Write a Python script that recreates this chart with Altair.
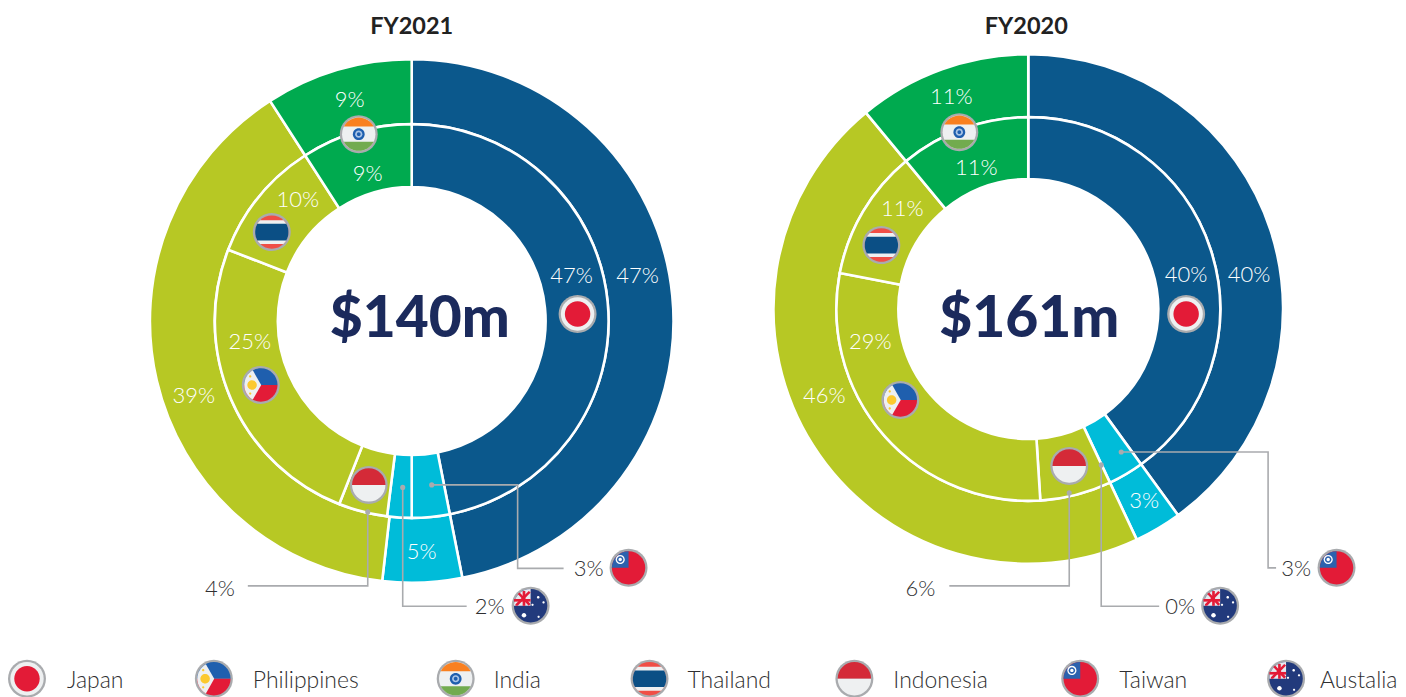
import altair as alt
import pandas as pd

W, H = 1390, 689
BLUE, CYAN, OLIVE, GREEN = "#0b588c", "#00bcd9", "#b7c824", "#00aa4f"
GREY = "#a9abae"
RED = "#e31b37"
PALE = "#eef0f1"

# ---- data -------------------------------------------------------------
inner_colors = [BLUE, CYAN, CYAN, OLIVE, OLIVE, OLIVE, GREEN]
inner_2021 = [46.9, 3.1, 2, 4, 24.9, 10, 9.1]
inner_2020 = [40, 3, 0, 6, 29, 11, 11]
outer_colors = [BLUE, CYAN, OLIVE, GREEN]
outer_2021 = [46.9, 4.9, 39.1, 9.1]
outer_2020 = [40, 3, 46, 11]

rings = [
    # cx, cy, rOuter, rMid, rHole
    (412, 321, 262, 197, 134, outer_2021, inner_2021),
    (1029, 309, 255, 192, 130, outer_2020, inner_2020),
]

pct_labels_white = [
    ("47%", 572, 276), ("47%", 638, 276), ("5%", 422, 552), ("39%", 194, 396),
    ("25%", 250, 342), ("10%", 298, 200), ("9%", 350, 100), ("9%", 368, 174),
    ("40%", 1187, 275), ("40%", 1250, 275), ("3%", 1145, 501), ("46%", 825, 396),
    ("29%", 871, 342), ("11%", 903, 209), ("11%", 952, 97), ("11%", 977, 168),
]
pct_labels_dark = [
    ("3%", 589, 569), ("2%", 490, 607), ("4%", 220, 589),
    ("3%", 1297, 569), ("0%", 1181, 607), ("6%", 921, 589),
]
titles = [("FY2021", 412, 27), ("FY2020", 1027, 27)]
centers = [("$140m", 420, 320), ("$161m", 1030, 320)]
legend_names = ["Japan", "Philippines", "India", "Thailand", "Indonesia", "Taiwan", "Austalia"]
legend_keys = ["Japan", "Philippines", "India", "Thailand", "Indonesia", "Taiwan", "Australia"]
legend_flag_x = [27, 214, 456, 650, 855, 1081, 1287]
legend_label_x = [67, 253, 494, 688, 894, 1120, 1321]
legend_flag_y = 679
legend_label_y = 681

flag_places = [
    ("Japan", 578, 314), ("Philippines", 261, 385), ("India", 359, 134), ("Thailand", 272, 232),
    ("Indonesia", 369, 485), ("Taiwan", 629, 568), ("Australia", 531, 606),
    ("Japan", 1187, 314), ("Philippines", 901, 400), ("India", 960, 132), ("Thailand", 882, 245),
    ("Indonesia", 1070, 466), ("Taiwan", 1337.5, 568), ("Australia", 1221, 606),
]

leaders = [
    [(432, 485), (518, 485), (518, 568.5), (564, 568.5)],
    [(403, 487.5), (403, 606.5), (467, 606.5)],
    [(368, 512), (368, 586), (248, 586)],
    [(1122, 452), (1269, 452), (1269, 568), (1277, 568)],
    [(1102, 465), (1102, 606.5), (1160, 606.5)],
    [(1070, 493), (1070, 586), (950, 586)],
]

# flag artwork: paths in a unit circle (custom symbol shapes); 1 unit = the flag radius
DISC = "M-1,0A1,1 0 1 1 1,0A1,1 0 1 1 -1,0Z"
TOP = "M-.88,0A.88,.88 0 0 1 .88,0Z"
BOT = "M-.88,0A.88,.88 0 0 0 .88,0Z"
QUARTER = "M-.88,0L0,0L0,-.88A.88,.88 0 0 0 -.88,0Z"
flag_art = {
    "Japan": [(DISC, PALE, 0.88), (DISC, RED, 0.67)],
    "Philippines": [
        (TOP, "#1f5fae"), (BOT, RED),
        ("M.02,0L-.42,-.77A.88,.88 0 0 0 -.42,.77Z", PALE),
        (DISC, "#fcc92f", 0.25, -0.46, 0),
        (DISC, "#fcc92f", 0.06, -0.56, -0.45),
        (DISC, "#fcc92f", 0.06, -0.56, 0.45),
    ],
    "India": [
        (DISC, PALE, 0.88),
        ("M-.784,-.4A.88,.88 0 0 1 .784,-.4Z", "#f98020"),
        ("M-.784,.4A.88,.88 0 0 0 .784,.4Z", "#72ab4f"),
        (DISC, "#1f5fae", 0.31),
        (DISC, "#a9c4e6", 0.19),
        (DISC, "#1f5fae", 0.1),
    ],
    "Thailand": [
        (DISC, "#f04e46", 0.88),
        ("M-.614,-.63L.614,-.63A.88,.88 0 0 1 .614,.63L-.614,.63A.88,.88 0 0 1 -.614,-.63Z", PALE),
        ("M-.762,-.44L.762,-.44A.88,.88 0 0 1 .762,.44L-.762,.44A.88,.88 0 0 1 -.762,-.44Z", "#0b4f85"),
    ],
    "Indonesia": [(TOP, "#d42a38"), (BOT, PALE)],
    "Taiwan": [
        (DISC, RED, 0.88),
        (QUARTER, "#2c62ae"),
        (DISC, "#ffffff", 0.24, -0.44, -0.44),
        (DISC, "#2c62ae", 0.17, -0.44, -0.44),
        (DISC, "#ffffff", 0.09, -0.44, -0.44),
    ],
    "Australia": [
        (DISC, "#223a7c", 0.88),
        (QUARTER, "#e8eaf0"),
        ("M-.88,-.36L0,-.36L0,-.22L-.88,-.22Z", RED),
        ("M-.42,-.78L-.28,-.78L-.28,0L-.42,0Z", RED),
        ("M-.68,-.62L-.58,-.7L0,-.1L-.1,0Z", RED),
        ("M0,-.7L-.68,0L-.8,0L-.8,-.08L-.1,-.78Z", RED),
        (DISC, "#ffffff", 0.07, 0.4, -0.45),
        (DISC, "#ffffff", 0.06, 0.68, -0.18),
        (DISC, "#ffffff", 0.06, 0.1, -0.05),
        (DISC, "#ffffff", 0.06, 0.42, 0.58),
        (DISC, "#ffffff", 0.12, -0.35, 0.5),
    ],
}

# ---- tables -----------------------------------------------------------
X = alt.X("x:Q", scale=alt.Scale(domain=[8, 8 + W], range=[0, W]), axis=None)
Y = alt.Y("y:Q", scale=alt.Scale(domain=[8 + H, 8], range=[H, 0]), axis=None)
TH = alt.Theta("t0:Q", scale=alt.Scale(domain=[0, 100], range=[0, 6.283185307]), stack=None)
TH2 = alt.Theta2("t1:Q")

rows_arc = []
for cx, cy, ro, rm, rh, ov, iv in rings:
    for vals, cols, r1, r0 in [(ov, outer_colors, ro, rm), (iv, inner_colors, rm, rh)]:
        c = 0
        for v, col in zip(vals, cols):
            if v > 0:
                rows_arc.append(dict(x=cx, y=cy, t0=c, t1=c + v, col=col, r=r1, r2=r0))
            c += v
arc_df = pd.DataFrame(rows_arc)
arc_layers = []
for (r1, r0), g in arc_df.groupby(["r", "r2"], sort=False):
    arc_layers.append(
        alt.Chart(g).mark_arc(radius=float(r1), radius2=float(r0), stroke="white", strokeWidth=2.6)
        .encode(x=X, y=Y, theta=TH, theta2=TH2, color=alt.Color("col:N", scale=None))
    )

line_rows = []
for i, pts in enumerate(leaders):
    for j, (a, b) in enumerate(pts):
        line_rows.append(dict(x=a, y=b, k=i, o=j))
line_df = pd.DataFrame(line_rows)
lines = alt.Chart(line_df).mark_line(color=GREY, strokeWidth=1.6, interpolate="linear").encode(
    x=X, y=Y, detail="k:N", order="o:Q")
dots = alt.Chart(pd.DataFrame([dict(x=p[0][0], y=p[0][1]) for p in leaders])).mark_circle(
    color=GREY, size=26, opacity=1).encode(x=X, y=Y)

R = 19.0
flag_rows = []
def place(name, fx, fy):
    flag_rows.append(dict(x=fx, y=fy, path=DISC, col=GREY, s=(2 * R) ** 2))
    for part in flag_art[name]:
        path, col = part[:2]
        scale = part[2] if len(part) > 2 else 1
        ox = part[3] if len(part) > 3 else 0
        oy = part[4] if len(part) > 4 else 0
        flag_rows.append(dict(x=fx + ox * R, y=fy + oy * R, path=path, col=col, s=(2 * R * scale) ** 2))
for n, a, b in flag_places:
    place(n, a, b)
for n, a in zip(legend_keys, legend_flag_x):
    place(n, a, legend_flag_y)
flag_df = pd.DataFrame(flag_rows)
flags = alt.Chart(flag_df).mark_point(filled=True, opacity=1, strokeWidth=0).encode(
    x=X, y=Y,
    shape=alt.Shape("path:N", scale=None),
    color=alt.Color("col:N", scale=None),
    size=alt.Size("s:Q", scale=None),
)

def text_layer(items, **kw):
    df = pd.DataFrame(items, columns=["t", "x", "y"])
    return alt.Chart(df).mark_text(**kw).encode(x=X, y=Y, text="t:N")

FONT = "Lato"
t_white = text_layer(pct_labels_white, font=FONT, fontWeight=300, fontSize=22, color="#ffffff")
t_dark = text_layer(pct_labels_dark, font=FONT, fontWeight=300, fontSize=22, color="#2f2f31")
t_title = text_layer(titles, font=FONT, fontWeight=700, fontSize=23.5, color="#222222")
t_center = text_layer(centers, font=FONT, fontWeight=900, fontSize=57, color="#1b2a5c")
legend_rows = [(n, a, legend_label_y) for n, a in zip(legend_names, legend_label_x)]
t_legend = text_layer(legend_rows, font=FONT, fontWeight=300, fontSize=23, color="#2f2f31", align="left")

chart = alt.layer(*arc_layers, lines, dots, flags, t_white, t_dark, t_title, t_center, t_legend).properties(
    width=W, height=H, padding=0
).configure_view(stroke=None)
chart.save("out.html", embed_options={"renderer": "svg", "actions": False})
